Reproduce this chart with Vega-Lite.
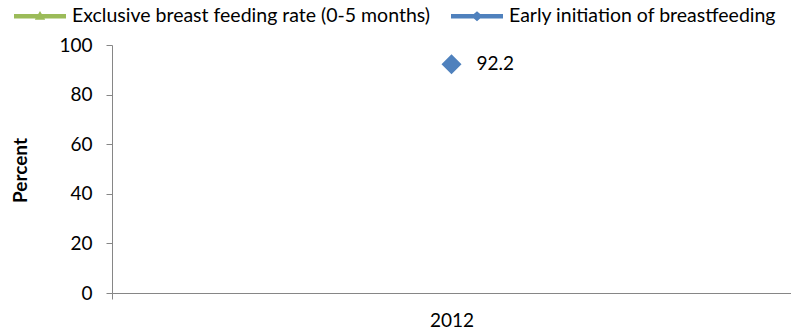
{
  "$schema": "https://vega.github.io/schema/vega-lite/v6.json",
  "width": 679,
  "height": 248,
  "autosize": "none",
  "padding": {"left": 112, "top": 45, "right": 0, "bottom": 40},
  "background": "white",
  "config": {
    "view": {"stroke": null},
    "font": "Lato",
    "axis": {"domainColor": "#868686", "tickColor": "#868686", "labelColor": "#000000", "grid": false, "labelFont": "Lato", "titleFont": "Lato"}
  },
  "data": {
    "values": [
      {"year": "2012", "series": "Exclusive breast feeding rate (0-5 months)", "value": null},
      {"year": "2012", "series": "Early initiation of breastfeeding", "value": 92.2}
    ]
  },
  "encoding": {
    "x": {
      "field": "year", "type": "nominal",
      "scale": {"type": "band", "paddingInner": 0, "paddingOuter": 0},
      "axis": {"title": null, "labelAngle": 0, "labelFontSize": 19, "tickBand": "extent", "tickSize": 6, "labelPadding": 12}
    },
    "y": {
      "field": "value", "type": "quantitative",
      "scale": {"domain": [0, 100], "nice": false, "zero": true},
      "axis": {"title": "Percent", "values": [0, 20, 40, 60, 80, 100], "labelFontSize": 19, "tickSize": 6, "labelPadding": 14, "titleFontSize": 19, "titleFontWeight": "bold", "titleAngle": -90, "titleX": -92, "titleY": 125, "titleAlign": "center", "titleBaseline": "middle"}
    }
  },
  "layer": [
    {
      "transform": [{"filter": "datum.value > 1000"}],
      "mark": {"type": "point", "filled": true, "opacity": 1, "size": 2704},
      "encoding": {
        "color": {
          "field": "series", "type": "nominal",
          "scale": {"domain": ["Exclusive breast feeding rate (0-5 months)", "Early initiation of breastfeeding"], "range": ["#9BBB59", "#4F81BD"]},
          "legend": {"title": null, "orient": "none", "direction": "horizontal", "legendX": -99, "legendY": -56, "symbolSize": 2704, "symbolOpacity": 1, "labelFontSize": 19.5, "labelFont": "Lato", "labelColor": "#000000", "labelLimit": 600, "labelOffset": 5, "columnPadding": 18, "padding": 0}
        },
        "shape": {
          "field": "series", "type": "nominal",
          "scale": {"domain": ["Exclusive breast feeding rate (0-5 months)", "Early initiation of breastfeeding"], "range": ["M-1,-0.085L1,-0.085L1,0.085L-1,0.085Z M-0.2,0.13L0,-0.2L0.2,0.13Z", "M-1,-0.085L1,-0.085L1,0.085L-1,0.085Z M-0.22,0L0,-0.19L0.22,0L0,0.19Z"]}
        }
      }
    },
    {
      "mark": {"type": "point", "shape": "diamond", "filled": true, "opacity": 1, "size": 400, "color": "#4F81BD"}
    },
    {
      "mark": {"type": "text", "align": "left", "baseline": "middle", "dx": 25, "fontSize": 19, "font": "Lato", "color": "#000000"},
      "encoding": {"text": {"field": "value", "type": "quantitative", "format": ".1f"}}
    }
  ]
}
